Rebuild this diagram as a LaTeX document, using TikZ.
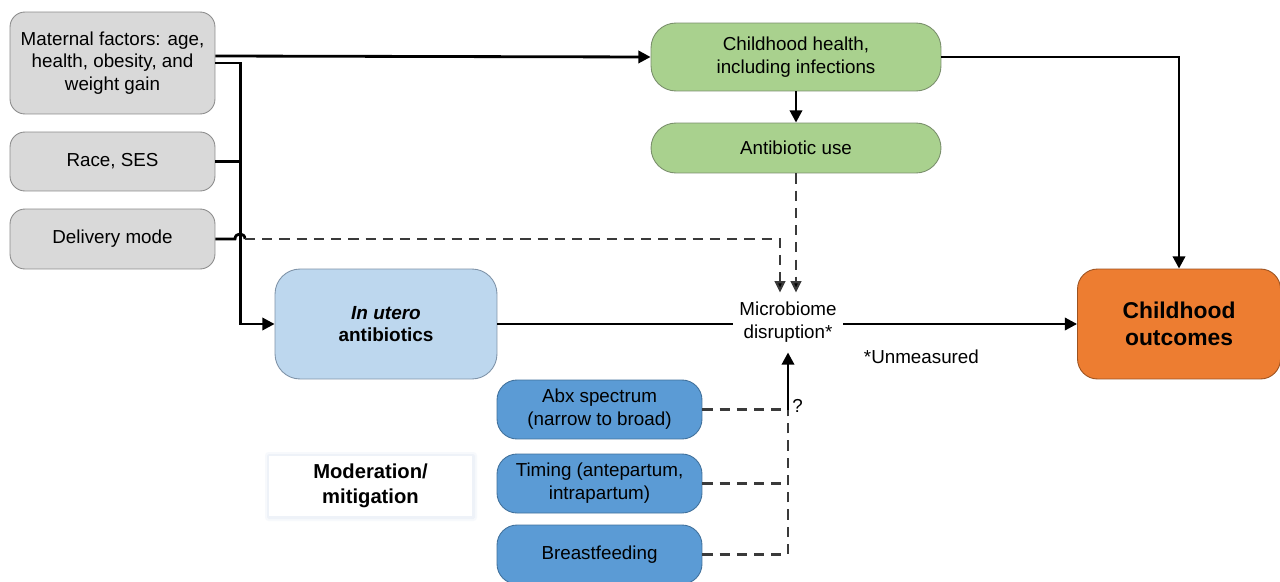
\documentclass[tikz,border=0pt]{standalone}
\usepackage{fontspec}
\setmainfont{Liberation Sans}
\usetikzlibrary{arrows.meta}
\definecolor{grayfill}{HTML}{D9D9D9}
\definecolor{grayline}{HTML}{8C8C8C}
\definecolor{greenfill}{HTML}{A9D18E}
\definecolor{greenline}{HTML}{7A8F6C}
\definecolor{lbluefill}{HTML}{BDD7EE}
\definecolor{lblueline}{HTML}{7F93A8}
\definecolor{bluefill}{HTML}{5B9BD5}
\definecolor{blueline}{HTML}{41719C}
\definecolor{orangefill}{HTML}{ED7D31}
\definecolor{orangeline}{HTML}{9C5220}
\definecolor{dashcol}{HTML}{3A3A3A}
\definecolor{glow1}{HTML}{F7F9FC}
\definecolor{glow2}{HTML}{EEF2F8}
\tikzset{
  base/.style={font=\fontsize{10.7}{13}\selectfont, align=center, inner sep=2pt, line width=0.5pt},
  graybox/.style={base, draw=grayline, fill=grayfill, rounded corners=0.3cm, minimum width=4.1cm},
  greenbox/.style={base, draw=greenline, fill=greenfill, rounded corners=0.5cm, minimum width=5.8cm},
  lbluebox/.style={base, draw=lblueline, fill=lbluefill, rounded corners=0.5cm, minimum width=4.44cm, minimum height=2.2cm},
  bluebox/.style={base, draw=blueline, fill=bluefill, rounded corners=0.4cm, minimum width=4.1cm, minimum height=1.18cm},
  orangebox/.style={base, draw=orangeline, fill=orangefill, rounded corners=0.4cm, minimum width=4.06cm, minimum height=2.2cm, font=\fontsize{13}{15.3}\selectfont\bfseries},
  plain/.style={base},
  arr/.style={line width=1.6pt, -{Triangle[length=7pt,width=7pt]}},
  sline/.style={line width=1.6pt},
  darr/.style={line width=1.25pt, draw=dashcol, dash pattern=on 5.8pt off 4pt, -{Triangle[length=6.5pt,width=6pt,fill=black]}},
  dline/.style={line width=1.25pt, draw=dashcol, dash pattern=on 5.8pt off 4pt},
}
\begin{document}
\begin{tikzpicture}[x=0.02cm, y=-0.02cm]
\useasboundingbox[fill=white] (0,0) rectangle (1280,581);
% moderation box glow
\fill[glow1, rounded corners=2pt] (265,452) rectangle (477,521);
\fill[glow2, rounded corners=1pt] (267,454) rectangle (475,519);
% nodes
\node[graybox, minimum height=2.04cm] (mat) at (112.5,63) {Maternal factors: age,\\health, obesity, and\\weight gain};
\node[graybox, minimum height=1.18cm] (race) at (112.5,161.5) {Race, SES};
\node[graybox, minimum height=1.2cm] (deliv) at (112.5,239) {Delivery mode};
\node[lbluebox, font=\fontsize{10.8}{13}\selectfont\bfseries] (utero) at (386,324) {\textit{In utero}\\antibiotics};
\node[greenbox, minimum height=1.36cm] (chh) at (796,57) {Childhood health,\\including infections};
\node[greenbox, minimum height=1.0cm] (abu) at (796,148) {Antibiotic use};
\node[plain, minimum width=2.2cm, minimum height=1.18cm, inner sep=0pt] (micro) at (788,322.5) {Microbiome\\disruption*};
\node[orangebox] (out) at (1179,324) {Childhood\\outcomes};
\node[plain, anchor=west] (unm) at (860,357) {*Unmeasured};
\node[bluebox] (abx) at (599.5,409.5) {Abx spectrum\\(narrow to broad)};
\node[bluebox] (tim) at (599.5,483.5) {Timing (antepartum,\\intrapartum)};
\node[bluebox] (bf) at (599.5,554.5) {Breastfeeding};
\node[base, fill=white, minimum width=4.06cm, minimum height=1.2cm, font=\fontsize{11.5}{14}\selectfont\bfseries] (mod) at (370.5,486) {Moderation/\\mitigation};
\node[plain, anchor=west, inner sep=0pt] (q) at (792,406) {?};
% connectors
\draw[arr] ([yshift=0.14cm]mat.east) -- (chh.west);
\draw[arr] (mat.east) -- ++(25,0) |- (utero.west);
\draw[sline] (race.east) -- ++(25,0);
\draw[sline] (deliv.east) -- (235,239) .. controls (235,232.3) and (245,232.3) .. (245,239);
\draw[darr] (245,239) -| ([xshift=-0.16cm]micro.north);
\draw[arr] (chh.south) -- (abu.north);
\draw[darr] (abu.south) -- (abu.south |- micro.north);
\draw[arr] (chh.east) -| (out.north);
\draw[sline] (utero.east) -- (utero.east -| micro.west);
\draw[arr] (utero.east -| micro.east) -- (out.west);
\coordinate (m1) at (abx.east -| micro.south);
\coordinate (m2) at (tim.east -| micro.south);
\coordinate (m3) at (bf.east -| micro.south);
\draw[dline] (abx.east) -- (m1);
\draw[dline] (tim.east) -- (m2);
\draw[dline] (bf.east) -- (m3) -- (m1);
\draw[arr] (m1) -- (micro.south);
\end{tikzpicture}
\end{document}
